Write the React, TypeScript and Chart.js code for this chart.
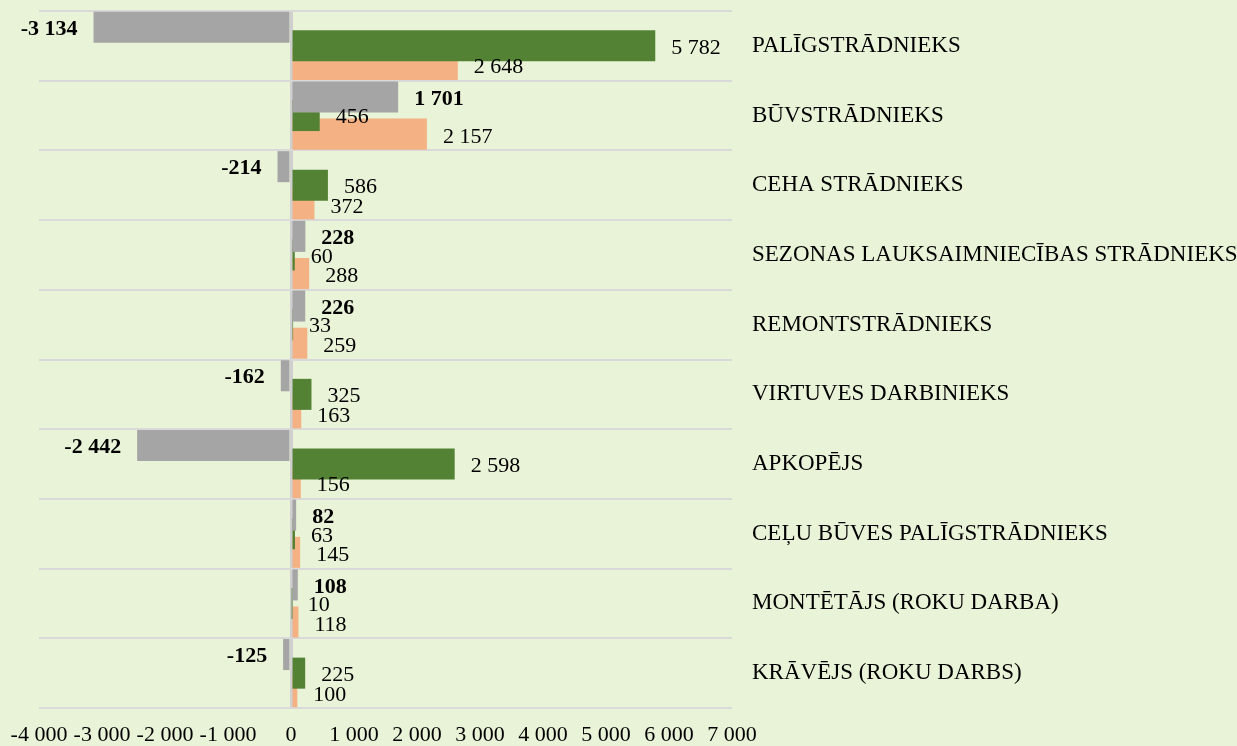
import React, { useEffect, useRef } from "react";
import { Chart, registerables } from "chart.js";

Chart.register(...registerables);

const categories = [
  "PALĪGSTRĀDNIEKS",
  "BŪVSTRĀDNIEKS",
  "CEHA STRĀDNIEKS",
  "SEZONAS LAUKSAIMNIECĪBAS STRĀDNIEKS",
  "REMONTSTRĀDNIEKS",
  "VIRTUVES DARBINIEKS",
  "APKOPĒJS",
  "CEĻU BŪVES PALĪGSTRĀDNIEKS",
  "MONTĒTĀJS (ROKU DARBA)",
  "KRĀVĒJS (ROKU DARBS)",
];

const differenceValues = [-3134, 1701, -214, 228, 226, -162, -2442, 82, 108, -125];
const greenValues = [5782, 456, 586, 60, 33, 325, 2598, 63, 10, 225];
const orangeValues = [2648, 2157, 372, 288, 259, 163, 156, 145, 118, 100];

const xMin = -4000;
const xMax = 7000;
const xStep = 1000;

const FONT = "'Liberation Serif', 'Times New Roman', serif";
const BG = "#E9F3D7";

function fmt(v: number): string {
  const s = Math.abs(Math.round(v)).toString().replace(/\B(?=(\d{3})+(?!\d))/g, " ");
  return (v < 0 ? "-" : "") + s;
}

const labelPlugin = {
  id: "valueLabels",
  afterDatasetsDraw(chart: any) {
    const ctx = chart.ctx;
    ctx.save();
    chart.data.datasets.forEach((ds: any, di: number) => {
      const meta = chart.getDatasetMeta(di);
      const bold = di === 0;
      ctx.font = `${bold ? "bold " : ""}22px ${FONT}`;
      ctx.fillStyle = "#000";
      ctx.textBaseline = "middle";
      meta.data.forEach((el: any, i: number) => {
        const v = ds.data[i] as number;
        const neg = v < 0;
        ctx.textAlign = neg ? "right" : "left";
        const x = neg ? el.x - 16 : el.x + 16;
        const y = el.y + (di === 2 ? 3 : 2);
        ctx.fillText(fmt(v), x, y);
      });
    });
    ctx.restore();
  },
};

export default function App() {
  const ref = useRef<HTMLCanvasElement | null>(null);
  useEffect(() => {
    if (!ref.current) return;
    const chart = new Chart(ref.current, {
      type: "bar",
      data: {
        labels: categories,
        datasets: [
          { label: "Starpība", data: differenceValues, backgroundColor: "#A5A5A5", borderWidth: 0 },
          { label: "Green", data: greenValues, backgroundColor: "#548235", borderWidth: 0 },
          { label: "Orange", data: orangeValues, backgroundColor: "#F4B183", borderWidth: 0 },
        ],
      },
      options: {
        indexAxis: "y",
        responsive: false,
        animation: false,
        datasets: { bar: { categoryPercentage: 0.8, barPercentage: 1.67 } },
        layout: { padding: { left: 39, top: 11, right: 0, bottom: 0 } },
        plugins: { legend: { display: false }, tooltip: { enabled: false } },
        scales: {
          x: {
            type: "linear",
            min: xMin,
            max: xMax,
            z: 1,
            border: { display: false },
            grid: {
              drawTicks: false,
              lineWidth: 3,
              color: (c: any) => (c.tick && c.tick.value === 0 ? "#CFCFCF" : "rgba(0,0,0,0)"),
            },
            ticks: {
              stepSize: xStep,
              autoSkip: false,
              maxRotation: 0,
              minRotation: 0,
              padding: 14,
              color: "#000",
              font: { family: FONT, size: 22 },
              callback: (v: any) => fmt(Number(v)),
            },
            afterFit: (s: any) => {
              s.height = 38;
              s.paddingLeft = 0;
              s.paddingRight = 0;
            },
          },
          y: {
            type: "category",
            position: "right",
            border: { display: false },
            grid: { color: "#D9D9D9", lineWidth: 2, offset: true, drawTicks: false },
            ticks: {
              padding: 20,
              color: "#000",
              font: { family: FONT, size: 23 },
              autoSkip: false,
            },
            afterFit: (s: any) => {
              s.width = 505;
              s.paddingTop = 0;
              s.paddingBottom = 0;
            },
          },
        },
      },
      plugins: [labelPlugin],
    });
    return () => chart.destroy();
  }, []);
  return (
    <div style={{ position: "absolute", left: 0, top: 0, width: 1237, height: 746, background: BG }}>
      <canvas ref={ref} width={1237} height={746} style={{ display: "block" }} />
    </div>
  );
}
